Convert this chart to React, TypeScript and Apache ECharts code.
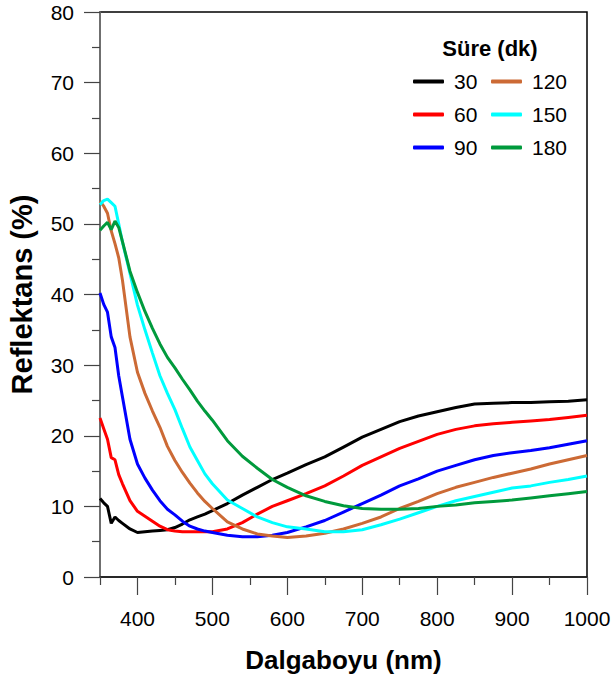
import React, { useEffect, useRef } from "react";
import * as echarts from "echarts";

const wavelengths = [350, 355, 360, 365, 370, 375, 380, 390, 400, 410, 420, 430, 440, 450, 460, 470, 480, 490, 500, 520, 540, 560, 580, 600, 625, 650, 675, 700, 725, 750, 775, 800, 825, 850, 875, 900, 925, 950, 975, 1000];

const r30 = [11.1, 10.5, 10.0, 7.6, 8.5, 8.0, 7.6, 6.8, 6.3, 6.4, 6.5, 6.6, 6.7, 7.0, 7.5, 8.1, 8.5, 8.9, 9.4, 10.4, 11.6, 12.7, 13.8, 14.7, 15.9, 17.0, 18.4, 19.8, 20.9, 22.0, 22.8, 23.4, 24.0, 24.5, 24.6, 24.7, 24.7, 24.8, 24.9, 25.1];
const r60 = [22.5, 21.0, 19.5, 16.9, 16.6, 14.5, 13.2, 10.8, 9.3, 8.6, 7.9, 7.2, 6.7, 6.5, 6.4, 6.4, 6.4, 6.4, 6.4, 6.8, 7.7, 8.9, 10.0, 10.8, 11.8, 12.9, 14.3, 15.8, 17.0, 18.2, 19.2, 20.2, 20.9, 21.4, 21.7, 21.9, 22.1, 22.3, 22.6, 22.9];
const r90 = [40.2, 38.6, 37.5, 34.0, 32.5, 28.5, 25.5, 19.5, 16.0, 14.0, 12.3, 10.8, 9.6, 8.8, 7.9, 7.2, 6.8, 6.5, 6.3, 5.9, 5.7, 5.7, 5.9, 6.3, 7.1, 8.0, 9.2, 10.4, 11.6, 12.9, 13.9, 15.0, 15.8, 16.6, 17.2, 17.6, 17.9, 18.3, 18.8, 19.3];
const r120 = [53.2, 52.5, 51.5, 49.0, 47.2, 45.2, 42.0, 34.0, 29.0, 26.0, 23.5, 21.2, 18.5, 16.5, 14.8, 13.3, 11.9, 10.7, 9.7, 7.8, 6.8, 6.1, 5.8, 5.6, 5.8, 6.2, 6.8, 7.6, 8.5, 9.7, 10.7, 11.8, 12.7, 13.4, 14.1, 14.7, 15.3, 16.0, 16.6, 17.2];
const r150 = [52.7, 53.3, 53.5, 53.0, 52.5, 50.0, 47.4, 43.0, 38.5, 35.0, 31.7, 28.5, 26.0, 23.7, 21.0, 18.4, 16.5, 14.6, 13.2, 10.9, 9.7, 8.5, 7.7, 7.1, 6.8, 6.4, 6.4, 6.7, 7.4, 8.2, 9.1, 10.0, 10.8, 11.4, 12.0, 12.6, 12.9, 13.4, 13.8, 14.3];
const r180 = [49.1, 49.7, 50.2, 49.2, 50.4, 49.5, 47.5, 43.3, 40.3, 37.6, 35.2, 33.0, 31.1, 29.6, 28.0, 26.5, 24.9, 23.5, 22.2, 19.3, 17.1, 15.4, 13.8, 12.7, 11.5, 10.7, 10.1, 9.7, 9.6, 9.6, 9.7, 10.0, 10.2, 10.5, 10.7, 10.9, 11.2, 11.5, 11.8, 12.1];

const seriesNames = ["30", "60", "90", "120", "150", "180"];
const seriesColors = ["#000000", "#ff0000", "#0000ff", "#cc6a35", "#00ffff", "#009a3c"];
const legendCol1 = ["30", "60", "90"];
const legendCol2 = ["120", "150", "180"];
const legendTitle = "Süre (dk)";
const xMajorTicks = [400, 500, 600, 700, 800, 900, 1000];
const xMinorTicks = [350, 450, 550, 650, 750, 850, 950];
const xName = "Dalgaboyu (nm)";
const yName = "Reflektans (%)";

export default function App() {
  const ref = useRef<HTMLDivElement>(null);
  useEffect(() => {
    const chart = echarts.init(ref.current!, null, { renderer: "svg" });
    const font = "'Liberation Sans', Arial, sans-serif";
    const values = [r30, r60, r90, r120, r150, r180];
    const legendBase = {
      orient: "vertical",
      top: 71,
      padding: 0,
      itemWidth: 31,
      itemHeight: 4,
      itemGap: 12,
      icon: "roundRect",
      selectedMode: false,
      textStyle: { fontFamily: font, fontSize: 21, lineHeight: 21, color: "#000", padding: [0, 0, 0, 5] },
    };
    chart.setOption({
      animation: false,
      backgroundColor: "#ffffff",
      grid: {
        left: 100, right: 26, top: 12, bottom: 107,
        containLabel: false, outerBoundsMode: "none",
        show: true, borderColor: "#000", borderWidth: 1.5, backgroundColor: "transparent",
      },
      xAxis: [
        {
          type: "value", min: 350, max: 1000, position: "bottom",
          name: xName, nameLocation: "middle", nameGap: 70,
          nameTextStyle: { fontFamily: font, fontSize: 26, fontWeight: "bold", color: "#000" },
          axisLine: { show: true, lineStyle: { color: "#222", width: 1.5 } },
          axisTick: { show: true, length: 18, customValues: xMajorTicks, lineStyle: { color: "#444", width: 1.2 } },
          axisLabel: { customValues: xMajorTicks, formatter: (v: number) => String(v), margin: 31, fontFamily: font, fontSize: 21, color: "#000" },
          splitLine: { show: false },
        },
        {
          type: "value", min: 350, max: 1000, position: "bottom",
          axisLine: { show: false },
          axisTick: { show: true, length: 8, customValues: xMinorTicks, lineStyle: { color: "#444", width: 1.2 } },
          axisLabel: { show: false },
          splitLine: { show: false },
        },
      ],
      yAxis: {
        type: "value", min: 0, max: 80, interval: 10,
        name: yName, nameLocation: "middle", nameGap: 64, nameRotate: 90,
        nameTextStyle: { fontFamily: font, fontSize: 29, fontWeight: "bold", color: "#000" },
        axisLine: { show: true, lineStyle: { color: "#808080", width: 1.5 } },
        axisTick: { show: true, length: 16, lineStyle: { color: "#444", width: 1.2 } },
        minorTick: { show: true, splitNumber: 2, length: 8, lineStyle: { color: "#444", width: 1.2 } },
        axisLabel: { margin: 26, fontFamily: font, fontSize: 21, color: "#000" },
        splitLine: { show: false },
        minorSplitLine: { show: false },
      },
      legend: [
        { ...legendBase, left: 413, data: legendCol1 },
        { ...legendBase, left: 491, data: legendCol2 },
      ],
      graphic: [
        {
          type: "text", x: 490, y: 48, z: 10,
          style: { text: legendTitle, fontFamily: font, fontSize: 22, fontWeight: "bold", fill: "#000", align: "center", verticalAlign: "middle" },
        },
      ],
      series: seriesNames.map((n, i) => ({
        type: "line",
        name: n,
        xAxisIndex: 0,
        yAxisIndex: 0,
        data: wavelengths.map((w, j) => [w, values[i][j]]),
        showSymbol: false,
        symbol: "none",
        lineStyle: { width: 3, color: seriesColors[i] },
        itemStyle: { color: seriesColors[i] },
      })),
    });
    return () => chart.dispose();
  }, []);
  return <div ref={ref} style={{ position: "fixed", left: 0, top: 0, width: 613, height: 684 }} />;
}
